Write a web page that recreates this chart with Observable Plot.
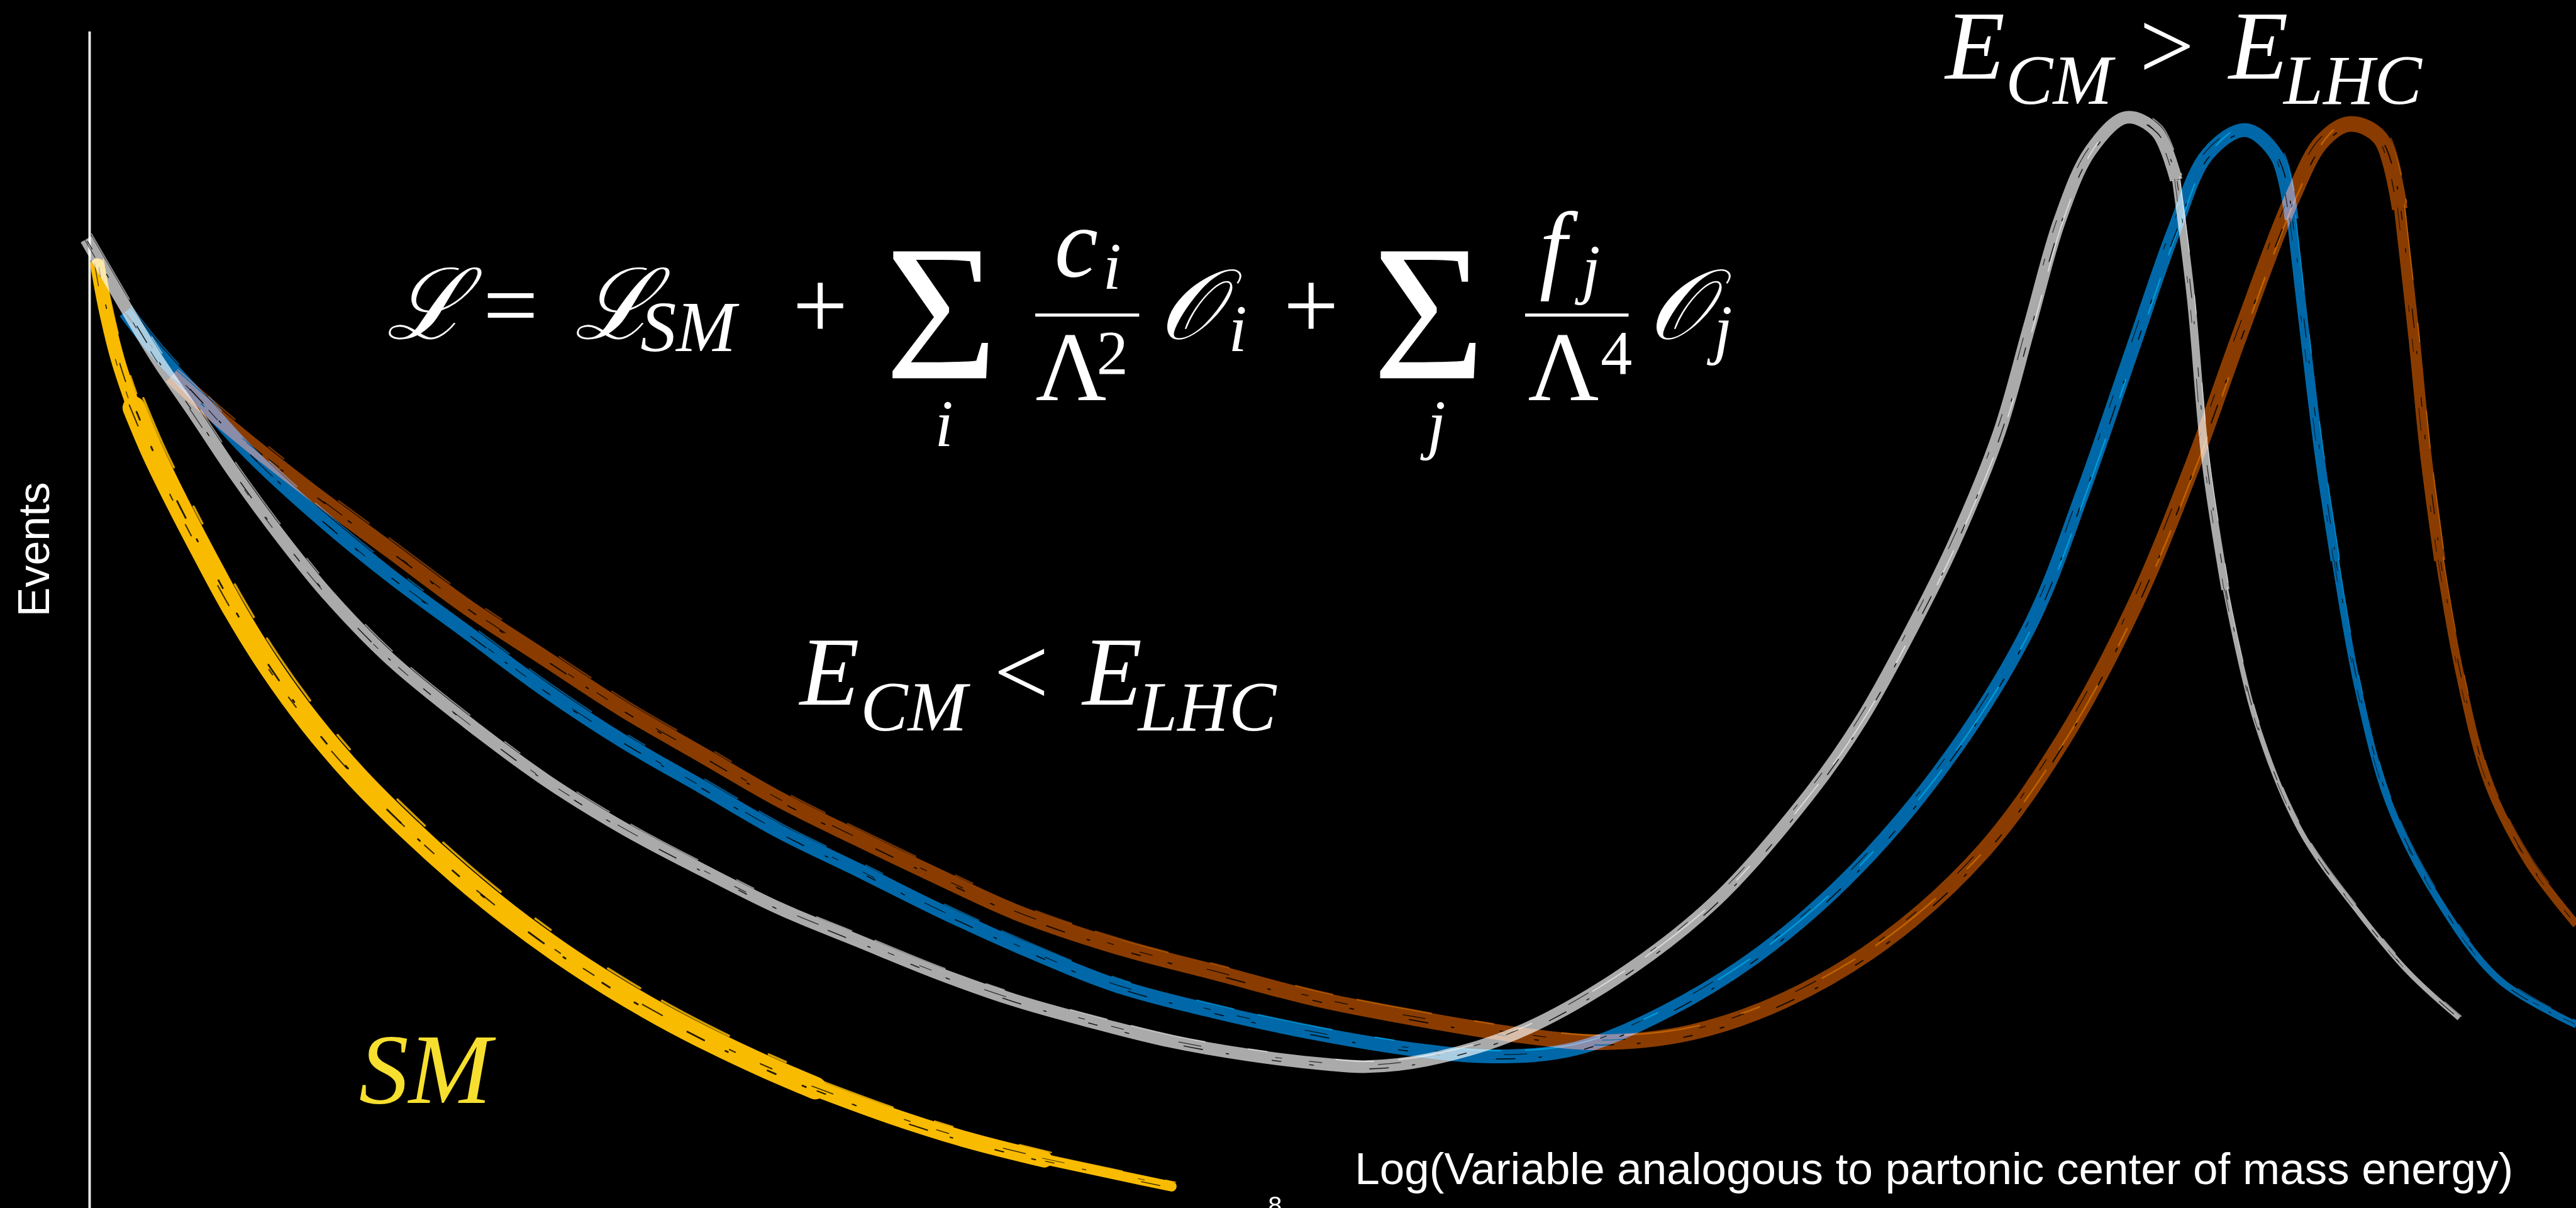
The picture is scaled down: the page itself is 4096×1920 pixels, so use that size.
<!DOCTYPE html>
<html>
<head>
<meta charset="utf-8">
<script src="https://cdn.jsdelivr.net/npm/d3@7"></script>
<script src="https://cdn.jsdelivr.net/npm/@observablehq/plot@0.6"></script>
<style>
  html, body { margin: 0; padding: 0; background: #000; }
  #chart svg { display: block; }
</style>
</head>
<body>
<div id="chart"></div>
<script>
// Event yield versus log of the partonic centre-of-mass energy, arbitrary units (0–100 on both axes).

// Standard Model: steeply falling spectrum
const smX = [0.31, 0.61, 1.13, 1.78, 2.56, 3.48, 4.61, 5.84, 7.27, 8.91, 10.75, 12.80, 14.84, 16.89, 18.94, 20.99, 23.03, 25.08, 27.13, 29.18, 32.25, 35.32, 38.39, 41.46, 43.51];
const smY = [80.16, 76.70, 72.15, 68.04, 64.14, 60.16, 55.57, 50.80, 45.95, 41.19, 36.64, 32.31, 28.41, 24.86, 21.70, 18.88, 16.37, 14.12, 12.08, 10.22, 7.84, 5.80, 4.16, 2.77, 1.86];

// New physics with the lightest resonance (grey)
const lightX = [-0.14, 1.13, 2.68, 4.26, 5.81, 7.70, 9.58, 12.08, 15.21, 18.35, 21.50, 24.63, 27.76, 30.90, 34.03, 37.16, 40.29, 43.43, 46.58, 49.65, 51.35, 53.75, 57.33, 61.32, 65.34, 69.21, 71.25, 73.10, 74.94, 76.78, 78.01, 79.24, 80.47, 81.90, 83.11, 83.91, 84.50, 85.09, 85.89, 87.10, 88.90, 91.30, 93.28, 95.29];
const lightY = [82.37, 77.74, 72.28, 67.39, 62.49, 57.04, 52.14, 46.69, 41.27, 36.38, 32.26, 28.76, 25.47, 22.74, 20.05, 17.71, 15.85, 14.21, 13.04, 12.26, 12.04, 12.60, 14.85, 19.45, 26.03, 35.34, 41.53, 48.55, 56.34, 65.87, 74.97, 84.06, 89.91, 92.72, 91.55, 87.40, 77.44, 63.62, 52.58, 41.53, 32.14, 24.99, 20.01, 16.15];

// Intermediate resonance (blue)
const midX = [1.43, 2.68, 4.57, 6.45, 8.95, 12.08, 15.21, 18.35, 21.50, 24.63, 27.76, 30.90, 34.03, 37.26, 41.36, 45.35, 49.35, 53.34, 56.47, 59.73, 63.33, 67.16, 71.05, 74.94, 78.11, 80.16, 82.15, 83.80, 85.18, 86.69, 87.94, 88.55, 89.09, 89.66, 90.31, 91.22, 92.49, 94.49, 96.89, 100.0];
const midY = [76.18, 72.84, 68.47, 64.14, 59.25, 53.79, 48.90, 44.00, 39.63, 35.82, 32.00, 28.76, 25.47, 22.35, 18.88, 16.67, 14.85, 13.47, 12.91, 13.56, 16.67, 21.65, 28.84, 38.76, 49.85, 60.89, 73.02, 82.98, 89.61, 91.64, 89.48, 84.06, 74.14, 64.18, 55.05, 44.22, 34.34, 26.07, 19.45, 15.59];

// Heaviest resonance (brown)
const heavyX = [3.28, 5.81, 8.95, 12.08, 15.21, 18.35, 21.50, 24.63, 27.76, 30.90, 34.03, 37.26, 41.36, 45.35, 49.35, 53.34, 57.33, 60.71, 64.39, 68.18, 72.17, 76.17, 79.38, 82.17, 84.56, 86.55, 88.55, 89.78, 90.89, 92.10, 92.90, 93.47, 93.94, 94.51, 95.31, 96.48, 98.08, 100.0];
const heavyY = [70.72, 66.09, 60.85, 55.95, 51.06, 46.69, 42.36, 38.54, 34.73, 31.44, 28.28, 25.16, 22.22, 20.01, 17.80, 16.15, 14.77, 14.12, 14.94, 17.71, 22.69, 30.40, 39.89, 50.93, 63.10, 74.71, 85.75, 90.69, 92.16, 90.99, 84.93, 74.14, 64.18, 55.05, 45.52, 36.03, 29.41, 24.12];

const xTitle = "Log(Variable analogous to partonic center of mass energy)";
const yTitle = "Events";
const tickText = ["8"];

// ---------------------------------------------------------------------------
const SERIF = "'Liberation Serif', 'Times New Roman', 'DejaVu Serif', serif";
const SANS = "'Liberation Sans', Arial, Helvetica, sans-serif";
const COL = {sm: "#f9bb00", light: "#aaaaaa", mid: "#0068a8", heavy: "#8a3c00", smText: "#f6df2f"};

const pts = (xs, ys, from = 0, to = xs.length - 1) =>
  d3.range(from, to + 1).map(i => ({x: xs[i], y: ys[i]}));

// A painted brush stroke: a solid band, a few stray bristles and dry gaps.
function brush(data, color, w, {blend = "normal", cap = "round"} = {}) {
  const base = {x: "x", y: "y", curve: "catmull-rom"};
  return [
    Plot.line(data, {...base, stroke: color, strokeWidth: w, strokeLinecap: cap, mixBlendMode: blend}),
    Plot.line(data, {...base, stroke: color, strokeWidth: Math.max(1.5, w * 0.1), dx: w * 0.42, dy: -w * 0.42,
      strokeDasharray: "120 70 30 110 60 40", strokeOpacity: 0.85, mixBlendMode: blend}),
    Plot.line(data, {...base, stroke: "#000", strokeWidth: Math.max(1.2, w * 0.08), dx: w * 0.12, dy: w * 0.18,
      strokeDasharray: "14 46 6 90 30 38 4 70", strokeOpacity: 0.85}),
    Plot.line(data, {...base, stroke: "#000", strokeWidth: Math.max(1, w * 0.06), dx: -w * 0.2, dy: -w * 0.12,
      strokeDasharray: "36 120 10 44 20 90", strokeOpacity: 0.75})
  ];
}

const peakIndex = ys => ys.indexOf(Math.max(...ys));

// A resonance curve: full-width body up to just past the peak, then a narrowing falling edge.
function resonance(xs, ys, color, [wBody, wMid, wTail]) {
  const p = peakIndex(ys);
  const opt = {blend: "screen", cap: "butt"};
  return [
    ...brush(pts(xs, ys, 0, p + 2), color, wBody, opt),
    ...brush(pts(xs, ys, p + 2, p + 5), color, wMid, opt),
    ...brush(pts(xs, ys, p + 5), color, wTail, opt)
  ];
}

// Text helper for the math annotations (baseline anchored)
function tex(t, x, y, size, {upright = false, anchor = "start", fill = "#fff"} = {}) {
  return Plot.text([{x, y, t}], {
    x: "x", y: "y", text: "t", fontSize: size, fontFamily: SERIF,
    fontStyle: upright ? "normal" : "italic", textAnchor: anchor, lineAnchor: "bottom", fill
  });
}
const bar = (x1, x2, y) => Plot.ruleY([{x1, x2, y}], {x1: "x1", x2: "x2", y: "y", stroke: "#fff", strokeWidth: 5});

// Lagrangian with dimension-6 and dimension-8 operators
const M = 156, S = 105, P = 100, BIG = 308;
const lagrangian = [
  tex("ℒ", 11.92, 73.93, M),
  tex("=", 16.93, 73.93, M, {upright: true, anchor: "middle"}),
  tex("ℒ", 19.49, 73.93, M),
  tex("SM", 22.15, 72.84, 114),
  tex("+", 29.38, 73.93, M, {upright: true, anchor: "middle"}),
  tex("Σ", 34.25, 70.55, BIG, {upright: true, anchor: "middle"}),
  tex("i", 34.36, 64.79, S, {anchor: "middle"}),
  tex("c", 38.80, 79.21, M),
  tex("i", 40.75, 78.17, S),
  bar(38.04, 42.22, 75.92),
  tex("Λ", 38.04, 68.69, M, {upright: true}),
  tex("2", 40.50, 70.94, P, {upright: true}),
  tex("𝒪", 42.98, 73.93, M),
  tex("i", 45.80, 72.84, S),
  tex("+", 49.12, 73.93, M, {upright: true, anchor: "middle"}),
  tex("Σ", 53.86, 70.55, BIG, {upright: true, anchor: "middle"}),
  tex("j", 54.16, 64.79, S, {anchor: "middle"}),
  tex("f", 58.31, 78.87, M),
  tex("j", 60.01, 78.00, S),
  bar(57.74, 61.90, 75.92),
  tex("Λ", 57.84, 68.69, M, {upright: true}),
  tex("4", 60.77, 70.94, P, {upright: true}),
  tex("𝒪", 62.65, 73.93, M),
  tex("j", 65.32, 72.84, S)
];

const E = 155, SUB = 113;
const belowLHC = [
  tex("E", 28.56, 42.83, E), tex("CM", 31.00, 40.62, SUB),
  tex("<", 36.36, 42.83, E, {upright: true}),
  tex("E", 39.93, 42.83, E), tex("LHC", 42.16, 40.62, SUB)
];
const aboveLHC = [
  tex("E", 74.63, 96.02, E), tex("CM", 77.05, 93.89, SUB),
  tex(">", 82.43, 96.02, E, {upright: true}),
  tex("E", 86.02, 96.02, E), tex("LHC", 88.23, 93.89, SUB)
];

const chart = Plot.plot({
  width: 4096,
  height: 1920,
  marginLeft: 142, marginRight: 0, marginTop: 50, marginBottom: 0,
  x: {domain: [0, 100], axis: null},
  y: {domain: [0, 100], axis: null},
  style: {background: "#000", color: "#fff"},
  marks: [
    // y axis line
    Plot.ruleX([{x: 0, y1: 0, y2: 100}], {x: "x", y1: "y1", y2: "y2", stroke: "#e8e8e8", strokeWidth: 4}),

    // SM spectrum: thin start, full body, tapering tail
    ...brush(pts(smX, smY, 0, 3), COL.sm, 22),
    ...brush(pts(smX, smY, 3, 19), COL.sm, 36),
    ...brush(pts(smX, smY, 19, 22), COL.sm, 26),
    ...brush(pts(smX, smY, 22), COL.sm, 16),

    // resonance curves, blended where they cross
    ...resonance(heavyX, heavyY, COL.heavy, [25, 18, 13]),
    ...resonance(midX, midY, COL.mid, [22, 15, 11]),
    ...resonance(lightX, lightY, COL.light, [20, 13, 8]),

    // annotations
    ...lagrangian,
    ...belowLHC,
    ...aboveLHC,
    tex("SM", 10.83, 8.96, 158, {fill: COL.smText}),

    // axis titles and the stray tick label
    Plot.text([{x: -2.19, y: 56.0, t: yTitle}], {x: "x", y: "y", text: "t", rotate: -90, fontSize: 70,
      fontFamily: SANS, fill: "#fff", textAnchor: "middle", lineAnchor: "middle"}),
    Plot.text([{x: 50.88, y: 2.08, t: xTitle}], {x: "x", y: "y", text: "t", fontSize: 71,
      fontFamily: SANS, fill: "#fff", textAnchor: "start", lineAnchor: "bottom"}),
    Plot.text(tickText.map(t => ({x: 47.67, y: 1.0, t})), {x: "x", y: "y", text: "t", fontSize: 40,
      fontFamily: SANS, fill: "#fff", textAnchor: "middle", lineAnchor: "top"})
  ]
});

document.getElementById("chart").append(chart);
</script>
</body>
</html>
